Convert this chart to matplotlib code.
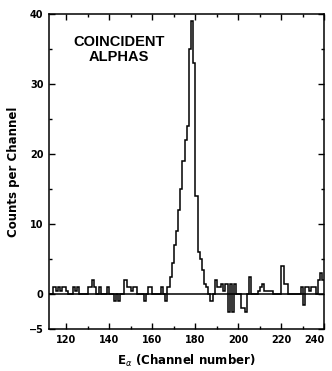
"""Coincident-alpha spectrum: counts per channel vs E_alpha channel number."""
import matplotlib

matplotlib.use("Agg")
import matplotlib.pyplot as plt  # noqa: E402
from matplotlib.ticker import MultipleLocator  # noqa: E402
import numpy as np  # noqa: E402

# channel bins 112..239 (each bin one channel wide)
first_channel = 112
counts = [
    0, 0, 1, 0.5, 1, 0.5, 1, 1, 0.5, 0,          # 112-121
    0, 1, 0.5, 1, 0, 0, 0, 0, 1, 1,              # 122-131
    2, 1, 0, 1, 0, 0, 0, 1, 0, 0,                # 132-141
    -1, 0, -1, 0, 0, 2, 1, 1, 0.5, 1,            # 142-151
    1, 0, 0, 0, -1, 0, 1, 1, 0, 0,               # 152-161
    0, 0, 1, 0, -1, 1, 2.5, 4.5, 7, 9,           # 162-171
    12, 15, 19, 22, 24, 35, 39, 33, 14, 6,       # 172-181
    5, 3.5, 1.5, 1, 0, -1, 0, 2, 1, 1,           # 182-191
    1.5, 0.5, 1.5, -2.5, 1.5, -2.5, 1.5, 0, 0, -2,   # 192-201
    -2, -2.5, 0, 2.5, 0, 0, 0, 0.5, 1, 1.5,      # 202-211
    0.5, 0.5, 0.5, 0.5, 0, 0, 0, 0, 4, 1.5,      # 212-221
    1.5, 0, 0, 0, 0, 0, 0, 1, -1.5, 1,           # 222-231
    1, 0.5, 1, 1, 0, 2, 3, 2,                    # 232-239
]
x_major_ticks = [120, 140, 160, 180, 200, 220, 240]
y_major_ticks = [-5, 0, 10, 20, 30, 40]
label_text = "COINCIDENT\nALPHAS"

TEXT_FONT = ["Liberation Sans Narrow", "Liberation Sans", "DejaVu Sans"]


def main() -> None:
    edges = np.arange(first_channel, first_channel + len(counts) + 1)

    fig = plt.figure(figsize=(3.32, 3.71), dpi=100)
    ax = fig.add_axes([0.148, 0.113, 0.829, 0.849])

    ax.axhline(0, color="black", lw=1.1)
    ax.stairs(counts, edges, color="black", lw=1.1, baseline=None)

    ax.set_xlim(112, 240)
    ax.set_ylim(-5, 40)
    ax.set_xticks(x_major_ticks)
    ax.set_yticks(y_major_ticks)
    ax.xaxis.set_minor_locator(MultipleLocator(10))
    ax.yaxis.set_minor_locator(MultipleLocator(5))
    ax.tick_params(which="both", direction="in", top=True, right=True,
                   labelsize=7, width=1, pad=4)
    ax.tick_params(which="major", length=4)
    ax.tick_params(which="minor", length=2.5)
    for lbl in ax.get_xticklabels() + ax.get_yticklabels():
        lbl.set_fontweight("bold")
    # last x label sits at the figure edge; nudge it inwards
    ax.get_xticklabels()[-1].set_horizontalalignment("right")
    ax.get_xticklabels()[-1].set_x(241.5)
    for spine in ax.spines.values():
        spine.set_linewidth(1.1)

    ax.text(0.255, 0.935, label_text, transform=ax.transAxes, ha="center",
            va="top", fontsize=10.5, fontweight="bold", family=TEXT_FONT,
            linespacing=1.1)

    ax.set_xlabel(r"E$_{\alpha}$ (Channel number)", fontsize=8.5, labelpad=6,
                  fontweight="bold")
    ax.set_ylabel("Counts per Channel", fontsize=8.5, labelpad=6,
                  fontweight="bold")

    fig.savefig("out.png", dpi=100)
    plt.close(fig)


if __name__ == "__main__":
    main()
